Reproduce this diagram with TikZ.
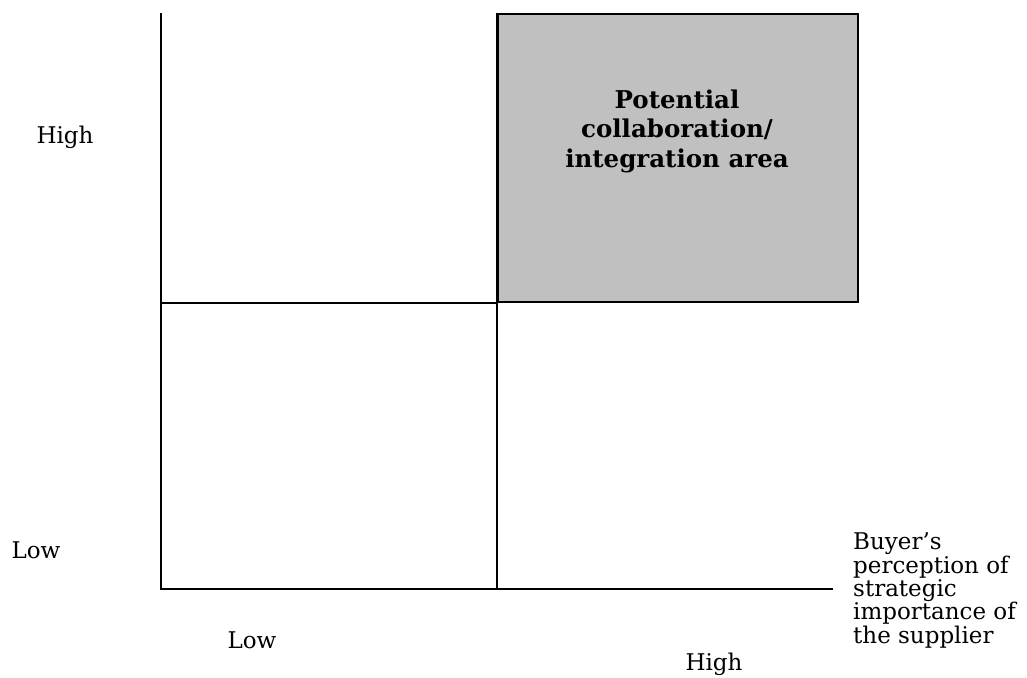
\documentclass[tikz,border=0pt]{standalone}
\usepackage{fontspec}
\setmainfont{DejaVu Serif}
\definecolor{boxgray}{RGB}{192,192,192}
\begin{document}
\begin{tikzpicture}[x=1pt,y=-1pt,
  axisline/.style={line width=2pt, black},
  lbl/.style={font=\fontsize{23}{23.3}\selectfont, inner sep=0pt},
  boxtext/.style={font=\fontsize{24.5}{29.5}\selectfont\bfseries, align=center, inner sep=0pt}]
\useasboundingbox (0,0) rectangle (1027,677);
% coordinates
\coordinate (top) at (160.5,13);
\coordinate (origin) at (160.5,589);
\coordinate (xend) at (833,589);
\coordinate (midtop) at (496.5,13);
\coordinate (midbot) at (496.5,589);
% gray quadrant
\node[draw, line width=2pt, fill=boxgray, minimum width=360pt, minimum height=288pt, inner sep=0pt, anchor=north west] (box) at (496.5,13) {};
% axes and dividers
\draw[axisline] (top) -- (origin) -- (xend);
\draw[axisline] (midtop) -- (midbot);
\draw[axisline] (box.south west) -- (box.south west -| top);
% box text
\node[boxtext] (area) at (677,131) {Potential\\collaboration/\\integration area};
% labels
\node[lbl, anchor=base] (yhigh) at (65,143) {High};
\node[lbl, anchor=base] (ylow) at (36,558) {Low};
\node[lbl, anchor=base] (xlow) at (252,648) {Low};
\node[lbl, anchor=base] (xhigh) at (714,670) {High};
\node[lbl, anchor=north west, align=left] (xtitle) at (853,533) {Buyer’s\\perception of\\strategic\\importance of\\the supplier};
\end{tikzpicture}
\end{document}
